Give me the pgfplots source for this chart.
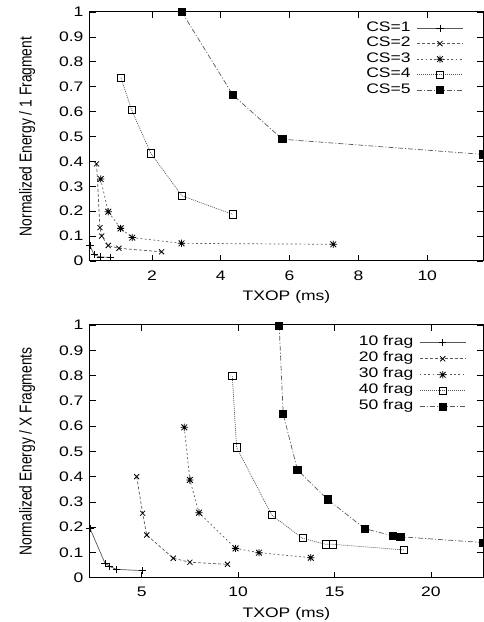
\documentclass[border=0pt]{standalone}
\usepackage{graphicx}
\usepackage{fontspec}
\setmainfont[FakeStretch=1.27]{Liberation Sans}
\newfontfamily\plainsans{Liberation Sans}
\usepackage{pgfplots}
\pgfplotsset{compat=1.18}
\pgfdeclareplotmark{plusx}{%
  \pgfpathmoveto{\pgfqpoint{-\pgfplotmarksize}{0pt}}\pgfpathlineto{\pgfqpoint{\pgfplotmarksize}{0pt}}%
  \pgfpathmoveto{\pgfqpoint{0pt}{-\pgfplotmarksize}}\pgfpathlineto{\pgfqpoint{0pt}{\pgfplotmarksize}}%
  \pgfpathmoveto{\pgfqpoint{-.8\pgfplotmarksize}{-.8\pgfplotmarksize}}\pgfpathlineto{\pgfqpoint{.8\pgfplotmarksize}{.8\pgfplotmarksize}}%
  \pgfpathmoveto{\pgfqpoint{-.8\pgfplotmarksize}{.8\pgfplotmarksize}}\pgfpathlineto{\pgfqpoint{.8\pgfplotmarksize}{-.8\pgfplotmarksize}}%
  \pgfusepathqstroke}
\pgfplotsset{
  myaxis/.style={
    scale only axis, width=393pt,
    font=\fontsize{13.8}{16}\selectfont,
    /pgf/number format/assume math mode=true,
    axis line style={line width=1pt},
    major tick length=6pt,
    tick style={black, line width=0.7pt},
    ymin=0, ymax=1, ytick={0,0.1,...,1.01},
    yticklabel style={/pgf/number format/fixed,/pgf/number format/precision=1, xshift=-3pt},
    xticklabel style={yshift=-6pt},
    xlabel style={at={(axis description cs:0.5,-0.145)}, anchor=center},
    ylabel style={at={(axis description cs:-0.160,0.5)}, anchor=center},
    clip=false,
    legend plot pos=right,
    legend cell align=right,
    legend image code/.code={\draw[mark repeat=2,mark phase=2,##1] plot coordinates {(0pt,0pt) (23pt,0pt) (46pt,0pt)};},
    every axis plot/.append style={line width=0.7pt, color=black!65, mark options={solid, black, line width=0.8pt}},
  },
  s1/.style={solid, mark=+, mark size=3.6pt},
  s2/.style={dash pattern=on 3pt off 2pt, mark=x, mark size=3.6pt},
  s3/.style={dash pattern=on 1.8pt off 2.5pt, mark=plusx, mark size=3.6pt},
  s4/.style={dash pattern=on 1pt off 1pt, mark=square, mark size=3.6pt},
  s5/.style={dash pattern=on 5pt off 2pt on 1pt off 2pt, mark=square*, mark size=3.6pt},
}
\begin{document}
\begin{tikzpicture}
\useasboundingbox (0,0) rectangle (484pt,622pt);
\begin{axis}[myaxis, at={(90pt,361pt)}, anchor=south west, height=249pt,
  xmin=0.2, xmax=11.62, xtick={2,4,6,8,10},
  xlabel={TXOP (ms)},
  ylabel={\plainsans\scalebox{1}[1.25]{Normalized Energy / 1 Fragment}},
  legend style={draw=none, fill=none, at={(rel axis cs:0.958,0.975)}, anchor=north east,
    nodes={inner sep=1pt, text height=10pt, text depth=3.5pt}, column sep=5pt},
]
\addplot[s1] coordinates {(0.2,0.062) (0.32,0.025) (0.5,0.016) (0.8,0.015)};
\addlegendentry{CS=1}
\addplot[s2] coordinates {(0.39,0.39) (0.49,0.134) (0.54,0.10) (0.73,0.062) (1.04,0.051) (2.28,0.037)};
\addlegendentry{CS=2}
\addplot[s3] coordinates {(0.51,0.329) (0.73,0.198) (1.09,0.131) (1.43,0.094) (2.86,0.071) (7.27,0.067)};
\addlegendentry{CS=3}
\addplot[s4] coordinates {(1.10,0.736) (1.41,0.606) (1.97,0.432) (2.87,0.262) (4.35,0.187)};
\addlegendentry{CS=4}
\addplot[s5] coordinates {(2.87,1.0) (4.35,0.667) (5.79,0.489) (11.62,0.428)};
\addlegendentry{CS=5}
\end{axis}
\begin{axis}[myaxis, at={(90pt,44.3pt)}, anchor=south west, height=252.7pt,
  xmin=2.32, xmax=22.7, xtick={5,10,15,20},
  xlabel={TXOP (ms)},
  ylabel={\plainsans\scalebox{1}[1.25]{Normalized Energy / X Fragments}},
  legend style={draw=none, fill=none, at={(rel axis cs:0.965,0.97)}, anchor=north east,
    nodes={inner sep=1pt, text height=10pt, text depth=4pt}, column sep=5pt},
]
\addplot[s1] coordinates {(2.32,0.195) (3.10,0.057) (3.35,0.044) (3.70,0.033) (5.05,0.028)};
\addlegendentry{10 frag}
\addplot[s2] coordinates {(4.74,0.40) (5.05,0.255) (5.26,0.169) (6.64,0.077) (7.50,0.061) (9.45,0.053)};
\addlegendentry{20 frag}
\addplot[s3] coordinates {(7.21,0.595) (7.50,0.387) (7.97,0.257) (9.87,0.116) (11.08,0.099) (13.77,0.079)};
\addlegendentry{30 frag}
\addplot[s4] coordinates {(9.70,0.798) (9.92,0.516) (11.74,0.248) (13.34,0.156) (14.55,0.132) (14.93,0.132) (18.6,0.110)};
\addlegendentry{40 frag}
\addplot[s5] coordinates {(12.13,0.997) (12.34,0.647) (13.08,0.426) (14.64,0.310) (16.57,0.194) (18.04,0.165) (18.42,0.162) (22.7,0.139)};
\addlegendentry{50 frag}
\end{axis}
\end{tikzpicture}
\end{document}
